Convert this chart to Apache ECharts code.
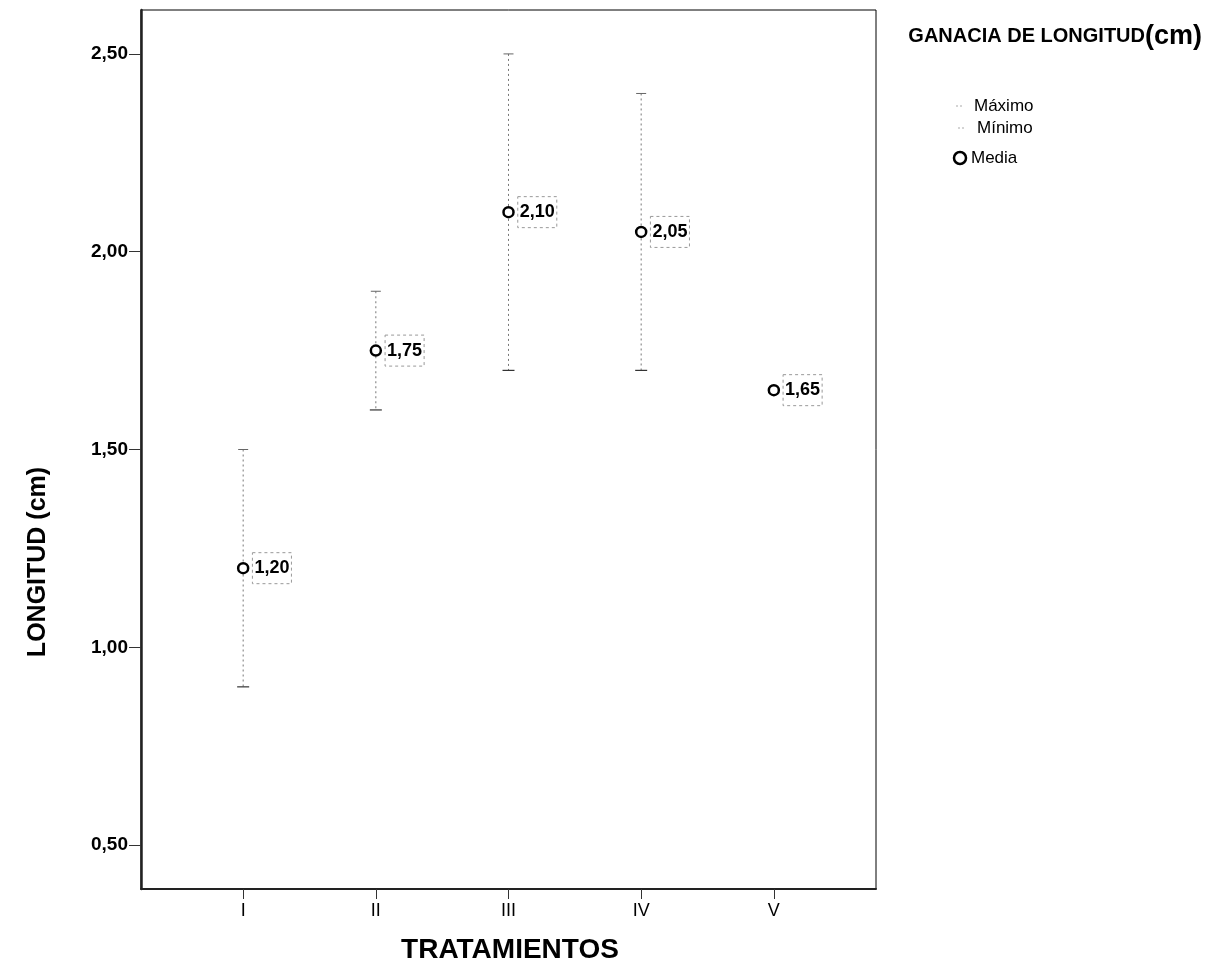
<!DOCTYPE html>
<html><head><meta charset="utf-8">
<script src="https://cdn.jsdelivr.net/npm/echarts@6/dist/echarts.min.js"></script>
<style>html,body{margin:0;padding:0;background:#fff}#c{width:1228px;height:975px}</style>
</head><body><div id="c"></div>
<script>
const categories = ['I', 'II', 'III', 'IV', 'V'];
const meanValues = [1.20, 1.75, 2.10, 2.05, 1.65];
const maxValues = [1.50, 1.90, 2.50, 2.40, 1.65];
const minValues = [0.90, 1.60, 1.70, 1.70, 1.65];
const yTickValues = [0.5, 1.0, 1.5, 2.0, 2.5];
const legendTitle = 'GANACIA DE LONGITUD';
const legendUnit = '(cm)';
const legendNames = ['Máximo', 'Mínimo', 'Media'];
const yTitle = 'LONGITUD (cm)';
const xTitle = 'TRATAMIENTOS';

const FONT = '"Liberation Sans", Arial, sans-serif';
const fmt = v => v.toFixed(2).replace('.', ',');
const xIdx = categories.map((c, i) => i);

const chart = echarts.init(document.getElementById('c'), null, {renderer: 'canvas'});

function barItem(params, api) {
  const x = api.value(0), hi = api.value(1), lo = api.value(2);
  if (hi === lo) return null;
  const pTop = api.coord([x, hi]), pBot = api.coord([x, lo]);
  return {type: 'group', children: [
    {type: 'line', shape: {x1: pTop[0], y1: pTop[1], x2: pBot[0], y2: pBot[1]},
     style: {stroke: '#777', lineWidth: 1, lineDash: [2, 3]}},
    {type: 'line', shape: {x1: pTop[0] - 5, y1: pTop[1], x2: pTop[0] + 5, y2: pTop[1]},
     style: {stroke: '#666', lineWidth: 1}}
  ]};
}
function minCapItem(params, api) {
  const x = api.value(0), hi = api.value(1), lo = api.value(2);
  if (hi === lo) return null;
  const pBot = api.coord([x, lo]);
  return {type: 'line', shape: {x1: pBot[0] - 6, y1: pBot[1], x2: pBot[0] + 6, y2: pBot[1]},
          style: {stroke: '#333', lineWidth: 1.2}};
}

const legendText = (name, x, y) => ({type: 'text', x: x, y: y,
  style: {text: name, fontFamily: FONT, fontSize: 17, fill: '#000', textAlign: 'left', textVerticalAlign: 'middle'}});

const option = {
  animation: false,
  backgroundColor: '#fff',
  textStyle: {fontFamily: FONT},
  title: {
    text: '{a|' + legendTitle + '}{b|' + legendUnit + '}',
    right: 21, top: 18,
    textStyle: {rich: {
      a: {fontFamily: FONT, fontWeight: 'bold', fontSize: 20, color: '#000'},
      b: {fontFamily: FONT, fontWeight: 'bold', fontSize: 27, color: '#000'}
    }}
  },
  grid: {left: 141, top: 10, right: 352, bottom: 86, show: true, borderColor: '#000', borderWidth: 1},
  xAxis: {
    type: 'value', min: -0.77, max: 4.77,
    axisLine: {show: true, onZero: false, lineStyle: {color: '#222', width: 2}},
    axisTick: {show: true, customValues: xIdx, length: 10, lineStyle: {color: '#333'}},
    axisLabel: {customValues: xIdx, formatter: v => categories[v], fontSize: 18, color: '#000', margin: 13, fontFamily: FONT},
    splitLine: {show: false}
  },
  yAxis: {
    type: 'value', min: 0.389, max: 2.611,
    axisLine: {show: true, onZero: false, lineStyle: {color: '#222', width: 2.5}},
    axisTick: {show: true, customValues: yTickValues, length: 12, lineStyle: {color: '#333'}},
    axisLabel: {customValues: yTickValues, formatter: v => fmt(v), fontSize: 19, fontWeight: 'bold', color: '#000', margin: 13, fontFamily: FONT},
    splitLine: {show: false}
  },
  graphic: [
    {type: 'text', x: 38, y: 562, rotation: Math.PI / 2,
     style: {text: yTitle, fontFamily: FONT, fontWeight: 'bold', fontSize: 25, fill: '#000', textAlign: 'center', textVerticalAlign: 'middle'}},
    {type: 'text', x: 510, y: 950,
     style: {text: xTitle, fontFamily: FONT, fontWeight: 'bold', fontSize: 28, fill: '#000', textAlign: 'center', textVerticalAlign: 'middle'}},
    // legend
    {type: 'line', shape: {x1: 956, y1: 106, x2: 964, y2: 106}, style: {stroke: '#aaa', lineWidth: 1, lineDash: [2, 2]}},
    legendText(legendNames[0], 974, 106),
    {type: 'line', shape: {x1: 958, y1: 128, x2: 966, y2: 128}, style: {stroke: '#aaa', lineWidth: 1, lineDash: [2, 2]}},
    legendText(legendNames[1], 977, 128),
    {type: 'circle', shape: {cx: 960, cy: 158, r: 6}, style: {fill: '#fff', stroke: '#000', lineWidth: 2.5}},
    legendText(legendNames[2], 971, 158)
  ],
  series: [
    {name: 'Máximo', type: 'custom', renderItem: barItem,
     data: xIdx.map(i => [i, maxValues[i], minValues[i]]), z: 2},
    {name: 'Mínimo', type: 'custom', renderItem: minCapItem,
     data: xIdx.map(i => [i, maxValues[i], minValues[i]]), z: 2},
    {name: 'Media', type: 'scatter', symbol: 'circle', symbolSize: 10,
     itemStyle: {color: '#fff', borderColor: '#000', borderWidth: 2.5, opacity: 1},
     data: xIdx.map(i => [i, meanValues[i]]), z: 5,
     label: {show: true, position: 'right', distance: 3,
       formatter: p => fmt(p.value[1]),
       fontFamily: FONT, fontSize: 18, fontWeight: 'bold', color: '#000',
       borderColor: '#999', borderWidth: 1, borderType: [3, 3], padding: [7, 2, 6, 2]}}
  ]
};
chart.setOption(option);
</script></body></html>
